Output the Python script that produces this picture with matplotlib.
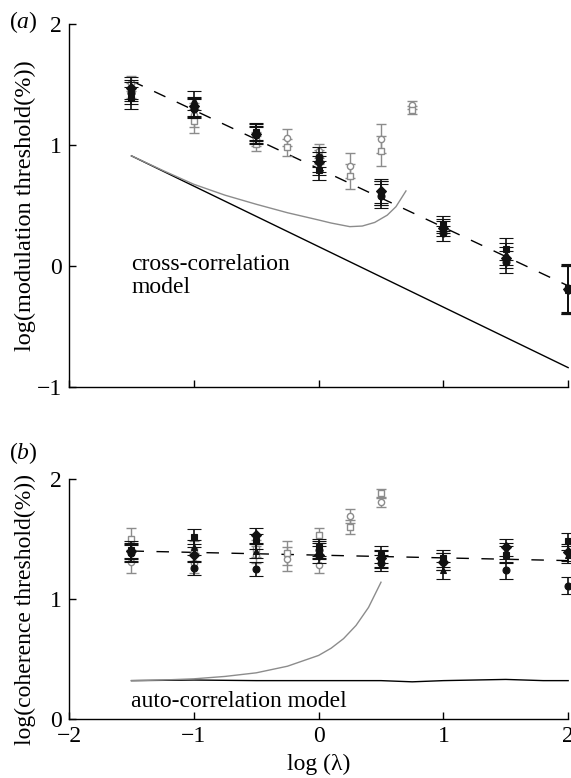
import matplotlib
matplotlib.use("Agg")
import matplotlib.pyplot as plt
import numpy as np

plt.rcParams['font.family'] = ['Liberation Serif', 'DejaVu Serif']
plt.rcParams['mathtext.fontset'] = 'custom'
plt.rcParams['mathtext.rm'] = 'Liberation Serif'
plt.rcParams['mathtext.it'] = 'Liberation Serif:italic'

# ---- panel (a): modulation threshold ----
xa_blk = [-1.5, -1, -0.5, 0, 0.5, 1, 1.5, 2]
a_sq = [1.39, 1.31, 1.11, 0.79, 0.60, 0.35, 0.14, -0.18]
a_ci = [1.43, 1.30, 1.08, 0.90, 0.58, 0.27, 0.03, -0.20]
a_di = [1.47, 1.32, 1.09, 0.86, 0.62, 0.31, 0.07, -0.19]
a_tr = [1.45, 1.37, 1.10, 0.83, 0.60, 0.33, 0.10, -0.20]
a_err = [0.09, 0.08, 0.07, 0.08, 0.1, 0.06, 0.09, 0.2]

xa_gry = [-1.5, -1, -0.5, -0.25, 0, 0.25, 0.5, 0.75]
a_gci = [1.51, 1.25, 1.05, 1.06, 0.95, 0.83, 1.05, 1.33]
a_gsq = [1.45, 1.20, 1.01, 0.98, 0.90, 0.74, 0.95, 1.29]
a_gerr = [0.06, 0.1, 0.06, 0.07, 0.06, 0.1, 0.12, 0.03]

a_fit_x = [-1.5, 2]
a_fit_y = [1.53, -0.164]
a_cross_x = [-1.5, 2]
a_cross_y = [0.91, -0.84]
a_model_x = [-1.5, -1.25, -1.0, -0.75, -0.5, -0.25, 0, 0.1, 0.25, 0.35, 0.45, 0.55, 0.62, 0.7]
a_model_y = [0.91, 0.79, 0.675, 0.585, 0.51, 0.44, 0.38, 0.355, 0.325, 0.33, 0.36, 0.42, 0.49, 0.62]

# ---- panel (b): coherence threshold ----
xb_blk = [-1.5, -1, -0.5, 0, 0.5, 1, 1.5, 2]
b_sq = [1.41, 1.52, 1.48, 1.43, 1.37, 1.34, 1.37, 1.48]
b_ci = [1.38, 1.26, 1.25, 1.41, 1.30, 1.31, 1.24, 1.11]
b_di = [1.40, 1.37, 1.53, 1.37, 1.34, 1.31, 1.43, 1.39]
b_tr = [1.39, 1.43, 1.40, 1.40, 1.33, 1.24, 1.40, 1.37]
b_err = [0.07, 0.06, 0.06, 0.07, 0.07, 0.07, 0.07, 0.07]

xb_gry = [-1.5, -1, -0.5, -0.25, 0, 0.25, 0.5]
b_gci = [1.31, 1.30, 1.37, 1.33, 1.28, 1.69, 1.81]
b_gsq = [1.50, 1.40, 1.42, 1.38, 1.53, 1.60, 1.88]
b_gerr = [0.09, 0.08, 0.07, 0.1, 0.06, 0.06, 0.04]

b_fit_x = [-1.5, 2]
b_fit_y = [1.40, 1.32]
b_auto_x = [-1.5, -1, -0.5, 0, 0.5, 0.75, 1, 1.5, 1.8, 2]
b_auto_y = [0.32, 0.325, 0.32, 0.32, 0.32, 0.31, 0.32, 0.33, 0.32, 0.32]
b_model_x = [-1.5, -1.25, -1.0, -0.75, -0.5, -0.25, 0, 0.1, 0.2, 0.3, 0.4, 0.5]
b_model_y = [0.32, 0.325, 0.335, 0.355, 0.385, 0.44, 0.53, 0.59, 0.67, 0.78, 0.93, 1.14]

GRAY = '#8c8c8c'
FS = 17

fig = plt.figure(figsize=(5.71, 7.78), dpi=100)
axa = fig.add_axes([0.121, 0.5026, 0.874, 0.4666])
axb = fig.add_axes([0.121, 0.0758, 0.874, 0.3085])


def draw_points(ax, xb, blk, err, xg, gry, gerr):
    for ys, m in zip(gry, ['o', 's']):
        ax.errorbar(xg, ys, yerr=gerr, fmt=m, color=GRAY, mfc='white', mec=GRAY,
                    ms=4.5, mew=1, elinewidth=1, capsize=3.5, capthick=1, zorder=3)
    for ys, m in zip(blk, ['s', 'o', 'D', '^']):
        ax.errorbar(xb, ys, yerr=err, fmt=m, color='#111111', ms=5, mew=0.8,
                    elinewidth=1.2, capsize=5, capthick=1.2, zorder=4)


draw_points(axa, xa_blk, [a_sq, a_ci, a_di, a_tr], a_err,
            xa_gry, [a_gci, a_gsq], a_gerr)
axa.plot(a_fit_x, a_fit_y, color='black', lw=1, dashes=(9, 9))
axa.plot(a_cross_x, a_cross_y, color='black', lw=1)
axa.plot(a_model_x, a_model_y, color=GRAY, lw=1)
axa.text(-1.5, 0.1, 'cross-correlation\nmodel', fontsize=FS, va='top', ha='left',
         linespacing=1.15)
axa.set_xlim(-2, 2)
axa.set_ylim(-1, 2)
axa.set_yticks([-1, 0, 1, 2])
axa.set_xticks([-2, -1, 0, 1, 2])
axa.set_xticklabels([])
axa.set_yticklabels(['\u22121', '0', '1', '2'])
axa.set_ylabel('log(modulation threshold(%))', fontsize=17.5)
axa.yaxis.set_label_coords(-0.066, 0.5)

draw_points(axb, xb_blk, [b_sq, b_ci, b_di, b_tr], b_err,
            xb_gry, [b_gci, b_gsq], b_gerr)
axb.plot(b_fit_x, b_fit_y, color='black', lw=1, dashes=(9, 9))
axb.plot(b_auto_x, b_auto_y, color='black', lw=1)
axb.plot(b_model_x, b_model_y, color=GRAY, lw=1)
axb.text(-1.5, 0.15, 'auto-correlation model', fontsize=FS, va='center', ha='left')
axb.set_xlim(-2, 2)
axb.set_ylim(0, 2)
axb.set_yticks([0, 1, 2])
axb.set_xticks([-2, -1, 0, 1, 2])
axb.set_xticklabels(['\u22122', '\u22121', '0', '1', '2'])
axb.set_ylabel('log(coherence threshold(%))', fontsize=17)
axb.yaxis.set_label_coords(-0.066, 0.455)
axb.set_xlabel('log (\u03bb)', fontsize=FS, labelpad=5)

for ax in (axa, axb):
    for s in ('top', 'right'):
        ax.spines[s].set_visible(False)
    ax.spines['left'].set_linewidth(1)
    ax.spines['bottom'].set_linewidth(1)
    ax.tick_params(direction='in', length=5, width=1, labelsize=FS, pad=5)
    for art in ax.get_children():
        try:
            art.set_clip_on(False)
        except Exception:
            pass

fig.text(0.016, 0.972, '($\\mathit{a}$)', fontsize=FS, va='center')
fig.text(0.016, 0.418, '($\\mathit{b}$)', fontsize=FS, va='center')

fig.savefig('out.png', dpi=100)
